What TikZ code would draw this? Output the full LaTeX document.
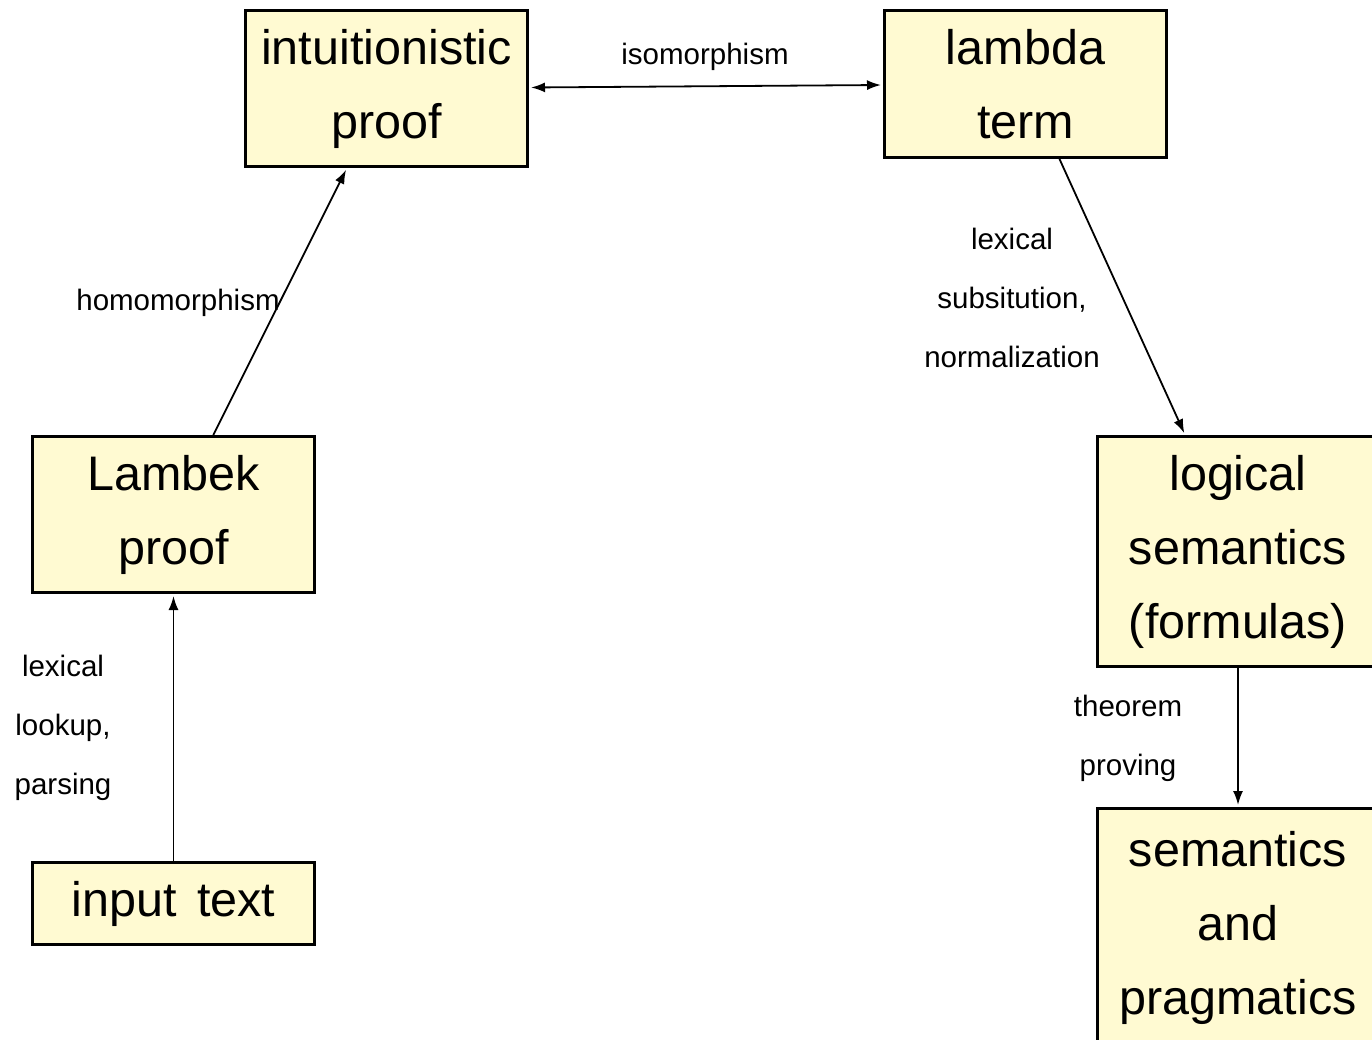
\documentclass[tikz,border=0pt]{standalone}
\usepackage{fontspec}
\setmainfont{Liberation Sans}
\usetikzlibrary{arrows.meta}
\definecolor{boxfill}{RGB}{255,250,210}
\begin{document}
\begin{tikzpicture}[x=1pt,y=-1pt,
  box/.style={draw=black, line width=3pt, fill=boxfill, inner sep=0pt, align=center,
    font=\fontsize{48.5}{74}\selectfont, minimum width=282pt},
  lbl/.style={align=center, font=\fontsize{29.5}{59}\selectfont, inner sep=0pt},
  arr/.style={line width=1.8pt, shorten >=2pt, -{Latex[length=14pt,width=10pt]}},
  darr/.style={line width=1.8pt, shorten >=2pt, shorten <=2pt, {Latex[length=14pt,width=10pt]}-{Latex[length=14pt,width=10pt]}}]
\useasboundingbox (0,0) rectangle (1372,1040);
\node[box, minimum height=156pt] (ip) at (386.5,88.5) {intuitionistic\\proof};
\node[box, minimum height=147pt] (lt) at (1025.5,84) {lambda\\term};
\node[box, minimum height=156pt] (lp) at (173.5,514.5) {Lambek\\proof};
\node[box, minimum height=82pt] (it) at (173.5,903.5) {input\hspace{0.42em}text};
\node[box, minimum height=230pt] (ls) at (1238,551.5) {logical\\semantics\\(formulas)};
\node[box, minimum height=238pt] (sp) at (1238,927.5) {semantics\\and\\pragmatics};
\draw[darr] (ip) -- (lt);
\draw[arr] (lp) -- (ip);
\draw[arr] (lt) -- (ls);
\draw[arr] (it) -- (lp);
\draw[arr] (ls) -- (sp);
\node[lbl] (liso) at (705,57) {isomorphism};
\node[lbl] (lhom) at (178,303) {homomorphism};
\node[lbl] (llex) at (1012,298) {lexical\\subsitution,\\normalization};
\node[lbl] (lpar) at (63,728) {lexical\\lookup,\\parsing};
\node[lbl] (lthm) at (1128,738) {theorem\\proving};
\end{tikzpicture}
\end{document}
